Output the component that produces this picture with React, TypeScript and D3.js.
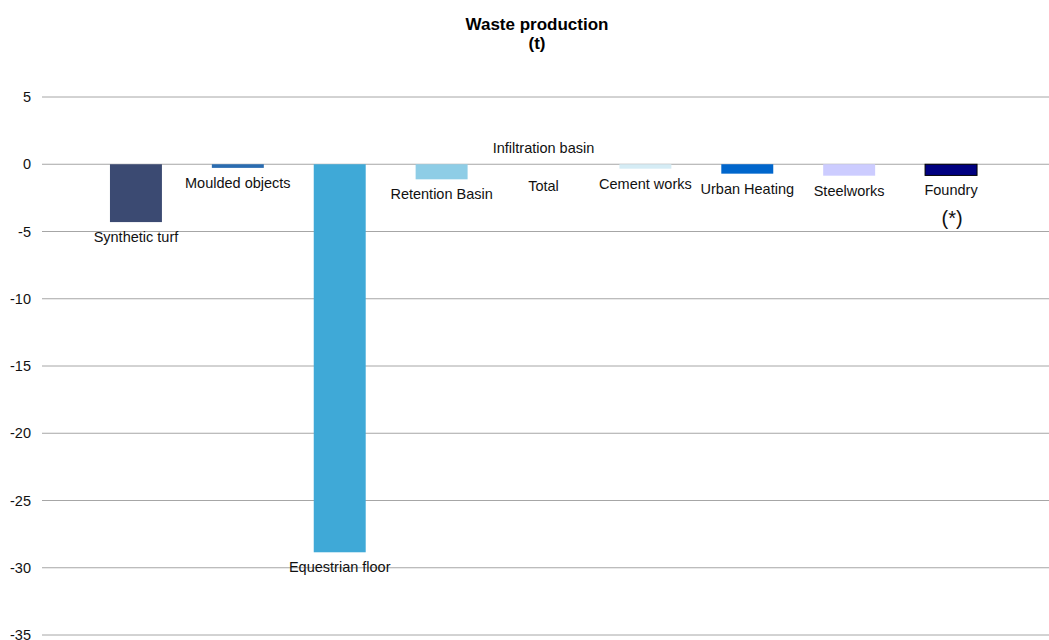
import React from "react";
import * as d3 from "d3";

const categories = [
  "Synthetic turf",
  "Moulded objects",
  "Equestrian floor",
  "Retention Basin",
  "Infiltration basin",
  "Cement works",
  "Urban Heating",
  "Steelworks",
  "Foundry",
];
const values = [-4.3, -0.27, -28.85, -1.12, 0, -0.33, -0.7, -0.85, -0.83];
const barColors = [
  "#3B4A72",
  "#2A6CB0",
  "#3FA9D7",
  "#8ECDE6",
  "#FFFFFF",
  "#D5ECF5",
  "#0066CC",
  "#CCCCFF",
  "#000080",
];
const yTicks = [5, 0, -5, -10, -15, -20, -25, -30, -35];
const titleLines = ["Waste production", "(t)"];
const extraLabel = "Total";
const footnote = "(*)";

const W = 1049;
const H = 640;

export default function App() {
  const y = d3.scaleLinear().domain([-35, 5]).range([635, 97]);
  const x = d3
    .scaleBand<string>()
    .domain(categories)
    .range([85, 1002])
    .paddingInner(0.49)
    .paddingOuter(0.245);
  const font = "'Liberation Sans', Arial, sans-serif";
  const bw = x.bandwidth();

  return (
    <svg
      width={W}
      height={H}
      style={{ position: "absolute", left: 0, top: 0, background: "#fff" }}
      fontFamily={font}
    >
      {titleLines.map((t, i) => (
        <text
          key={t}
          x={537}
          y={30 + i * 19}
          textAnchor="middle"
          fontWeight="bold"
          fontSize={17}
          fill="#000"
        >
          {t}
        </text>
      ))}
      {yTicks.map((t) => (
        <g key={t}>
          <line x1={42} x2={W} y1={y(t)} y2={y(t)} stroke="#A6A6A6" strokeWidth={1} />
          <text
            x={31}
            y={y(t)}
            dy="0.35em"
            textAnchor="end"
            fontSize={14.5}
            fill="#111"
          >
            {t}
          </text>
        </g>
      ))}
      {categories.map((c, i) => {
        const v = values[i];
        const x0 = x(c)!;
        const y0 = y(Math.max(0, v));
        const y1 = y(Math.min(0, v));
        const isFoundry = c === "Foundry";
        return (
          <g key={c}>
            {v !== 0 && (
              <rect
                x={x0}
                y={y0}
                width={bw}
                height={y1 - y0}
                fill={barColors[i]}
                stroke={isFoundry ? "#000" : "none"}
                strokeWidth={isFoundry ? 1 : 0}
              />
            )}
            <text
              x={x0 + bw / 2}
              y={v < 0 ? y1 + 15 : y(0) - 16}
              dy="0.35em"
              textAnchor="middle"
              fontSize={14.5}
              fill="#111"
            >
              {c}
            </text>
          </g>
        );
      })}
      <text
        x={x("Infiltration basin")! + bw / 2}
        y={y(0) + 22}
        dy="0.35em"
        textAnchor="middle"
        fontSize={14.5}
        fill="#111"
      >
        {extraLabel}
      </text>
      <text
        x={x("Foundry")! + bw / 2 + 1}
        y={y(values[8]) + 43}
        dy="0.35em"
        textAnchor="middle"
        fontSize={20}
        fill="#111"
      >
        {footnote}
      </text>
    </svg>
  );
}
